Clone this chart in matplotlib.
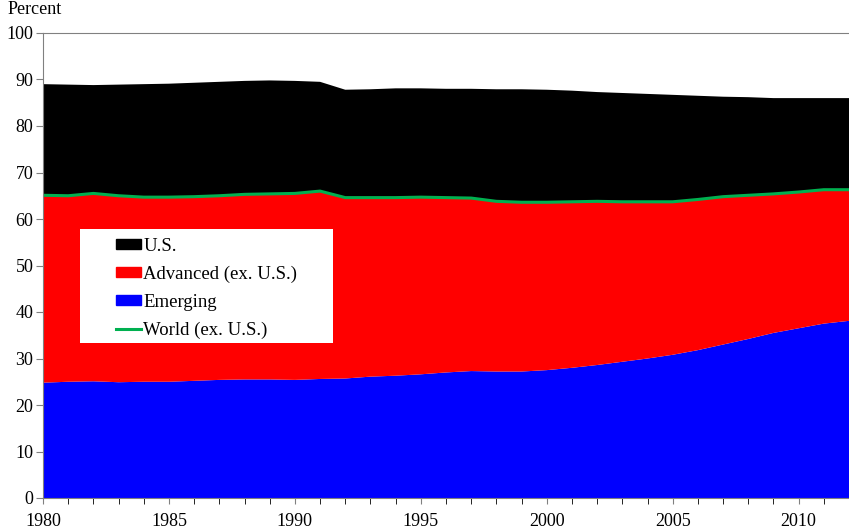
import numpy as np
import matplotlib.pyplot as plt
from matplotlib.patches import Rectangle, Patch
from matplotlib.lines import Line2D
from matplotlib.ticker import MultipleLocator

plt.rcParams['font.family'] = ['Liberation Serif', 'DejaVu Serif']

# shares of world total, percent
years = np.arange(1980, 2013)
emerging = [24.8, 25.0, 25.1, 24.9, 25.0, 25.0, 25.2, 25.4, 25.5, 25.5, 25.4,
            25.6, 25.7, 26.1, 26.3, 26.6, 27.0, 27.3, 27.2, 27.2, 27.5, 28.0,
            28.6, 29.3, 30.0, 30.8, 31.8, 33.0, 34.2, 35.5, 36.5, 37.5, 38.1]
advanced = [40.3, 40.0, 40.4, 40.1, 39.7, 39.7, 39.6, 39.6, 39.8, 39.9, 40.1,
            40.4, 38.9, 38.5, 38.3, 38.1, 37.6, 37.2, 36.6, 36.4, 36.1, 35.7,
            35.2, 34.4, 33.7, 32.9, 32.4, 31.8, 30.9, 29.9, 29.3, 28.8, 28.2]
us = [23.9, 23.9, 23.3, 23.9, 24.3, 24.4, 24.5, 24.5, 24.4, 24.4, 24.2,
      23.5, 23.2, 23.3, 23.5, 23.4, 23.4, 23.5, 24.1, 24.3, 24.2, 23.9,
      23.5, 23.4, 23.2, 23.0, 22.3, 21.5, 21.1, 20.6, 20.2, 19.7, 19.7]
labels = ["U.S.", "Advanced (ex. U.S.)", "Emerging", "World (ex. U.S.)"]

world_ex_us = np.array(emerging) + np.array(advanced)

fig = plt.figure(figsize=(8.49, 5.31), dpi=100)
ax = fig.add_axes([43/849, 1-498/531, 806/849, 465/531])

ax.stackplot(years, emerging, advanced, us, colors=["#0000ff", "#ff0000", "#000000"], lw=0)
ax.plot(years, world_ex_us, color="#00b050", lw=2.2)

ax.set_xlim(1980, 2012)
ax.set_ylim(0, 100)
ax.xaxis.set_major_locator(MultipleLocator(5))
ax.xaxis.set_minor_locator(MultipleLocator(1))
ax.yaxis.set_major_locator(MultipleLocator(10))
ax.tick_params(axis='both', labelsize=13, colors='#808080', labelcolor='black', direction='out')
ax.tick_params(axis='x', which='both', length=4, pad=7)
ax.tick_params(axis='y', length=5, pad=2)
for s in ['left', 'bottom', 'top']:
    ax.spines[s].set_color('#808080')
ax.spines['right'].set_visible(False)

fig.text(8/849, 1-10/531, "Percent", fontsize=13, va='center', ha='left')

# legend box
ax.add_patch(Rectangle((37/806, (498-343)/465), 253/806, 114/465, transform=ax.transAxes,
                       facecolor='white', edgecolor='none', zorder=5))
handles = [Patch(color="#000000"), Patch(color="#ff0000"), Patch(color="#0000ff"),
           Line2D([], [], color="#00b050", lw=2.2)]
leg = ax.legend(handles, labels, loc='upper left', bbox_to_anchor=(73/806, (498-238)/465),
                frameon=False, fontsize=13.5, handlelength=1.35, handleheight=0.45,
                handletextpad=0.1, labelspacing=0.58, borderaxespad=0, borderpad=0)
leg.set_zorder(6)

fig.savefig("out.png", dpi=100)
